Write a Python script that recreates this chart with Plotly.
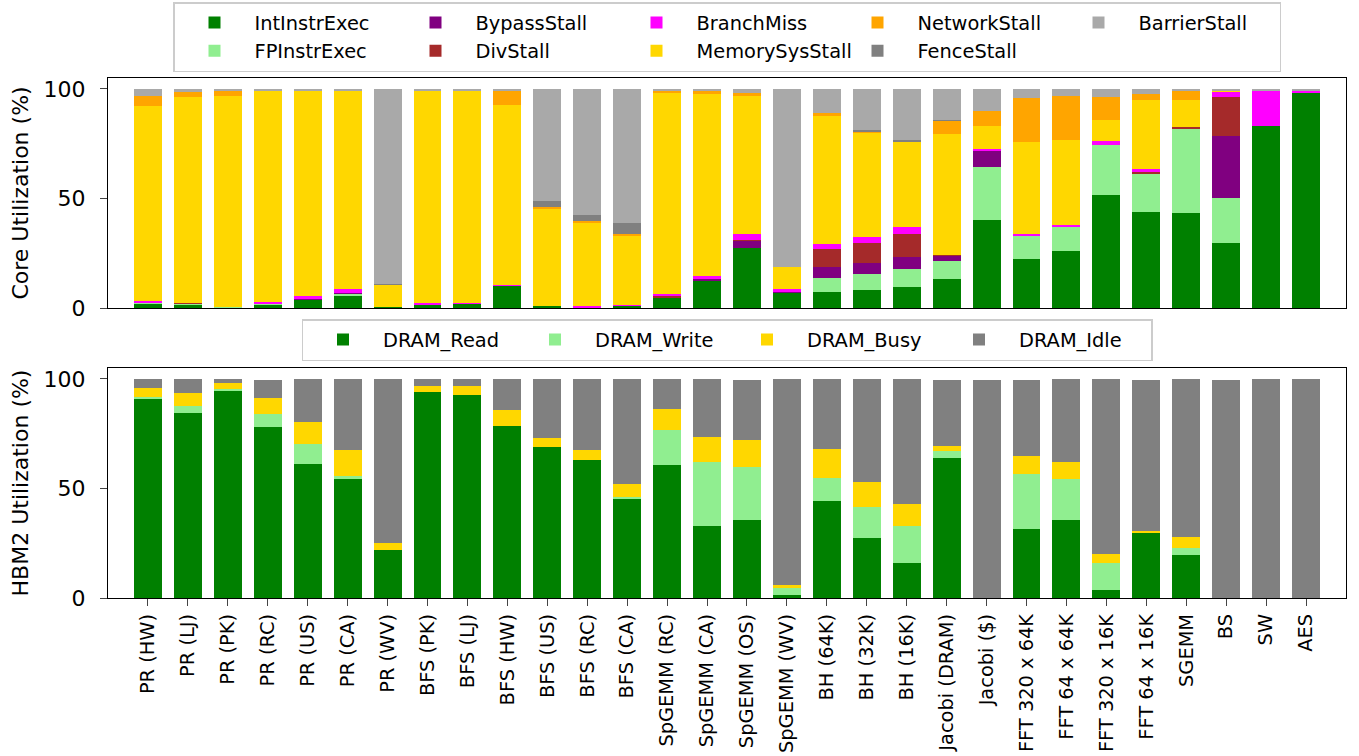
import plotly.graph_objects as go

categories = ["PR (HW)", "PR (LJ)", "PR (PK)", "PR (RC)", "PR (US)", "PR (CA)", "PR (WV)",
              "BFS (PK)", "BFS (LJ)", "BFS (HW)", "BFS (US)", "BFS (RC)", "BFS (CA)",
              "SpGEMM (RC)", "SpGEMM (CA)", "SpGEMM (OS)", "SpGEMM (WV)",
              "BH (64K)", "BH (32K)", "BH (16K)", "Jacobi (DRAM)", "Jacobi ($)",
              "FFT 320 x 64K", "FFT 64 x 64K", "FFT 320 x 16K", "FFT 64 x 16K",
              "SGEMM", "BS", "SW", "AES"]

# Core utilization breakdown (%)
int_instr = [2.0, 1.7, 0.3, 1.5, 4.0, 5.6, 0.5, 1.5, 2.0, 10.2, 0.8, 0.3, 1.0, 4.9, 12.2, 27.6, 7.0,
             7.5, 8.4, 9.8, 13.4, 40.0, 22.6, 25.8, 51.5, 43.7, 43.2, 29.9, 83.1, 98.6]
fp_instr = [0.7, 0.3, 0.3, 0.4, 0, 0.8, 0, 0, 0, 0, 0, 0, 0, 0, 0, 0, 0,
            6.4, 7.3, 8.2, 8.2, 24.3, 10.5, 11.5, 22.9, 17.9, 38.9, 20.2, 0, 0]
bypass_stall = [0, 0, 0, 0, 0.3, 0.4, 0, 0, 0, 0, 0, 0, 0, 0, 1.2, 3.1, 0.5,
                4.6, 5.0, 5.5, 2.3, 7.8, 0, 0, 0, 0, 0, 28.4, 0, 0]
div_stall = [0, 0.5, 0, 0, 0, 0, 0, 0, 0, 0, 0, 0, 0, 0.8, 0, 0.3, 0,
             8.4, 9.2, 10.5, 0.5, 0, 0, 0, 0, 0.5, 0.5, 17.9, 0, 0]
branch_miss = [0.5, 0, 0, 0.9, 1.4, 2.0, 0, 0.6, 0.5, 0.5, 0, 0.5, 0.5, 0.5, 1.4, 3.0, 1.4,
               2.1, 2.7, 3.2, 0, 0.6, 0.9, 0.5, 1.8, 1.4, 0, 2.3, 16.3, 0.6]
memory_stall = [88.9, 93.9, 96.2, 96.5, 93.7, 90.5, 10.1, 97.3, 96.9, 82.0, 44.7, 38.3, 31.6, 92.1, 82.9, 62.8, 9.6,
                59.1, 47.6, 38.9, 55.0, 10.4, 41.7, 38.9, 9.6, 31.6, 12.4, 0.8, 0, 0]
network_stall = [4.6, 2.1, 2.6, 0, 0, 0, 0, 0, 0, 6.7, 0.5, 0.5, 0.5, 1.2, 1.4, 1.4, 0,
                 0.9, 0.5, 0, 6.0, 6.9, 20.2, 20.2, 10.5, 2.7, 4.4, 0, 0, 0]
fence_stall = [0, 0, 0, 0, 0, 0, 0.5, 0, 0, 0, 2.7, 2.7, 5.0, 0, 0, 0, 0,
               0, 0.5, 0.5, 0.5, 0, 0, 0, 0, 0, 0, 0, 0, 0]
barrier_stall = [3.3, 1.5, 0.6, 0.7, 0.6, 0.7, 88.9, 0.6, 0.6, 0.6, 51.3, 57.7, 61.4, 0.5, 0.9, 1.8, 81.5,
                 11.0, 18.8, 23.4, 14.1, 10.0, 4.1, 3.1, 3.7, 2.2, 0.6, 0.5, 0.6, 0.8]

# HBM2 utilization breakdown (%)
dram_read = [91.3, 84.4, 94.5, 78.0, 61.1, 54.2, 22.1, 94.0, 92.7, 78.5, 68.9, 62.9, 45.5, 60.6, 33.1, 35.4, 1.5,
             44.1, 27.2, 16.2, 63.8, 0, 31.3, 35.4, 3.8, 29.9, 19.8, 0, 0, 0]
dram_write = [0.6, 3.2, 0.9, 6.0, 9.2, 1.4, 0, 0, 0, 0, 0, 0, 0.5, 16.0, 28.9, 24.3, 3.2,
              10.5, 14.2, 16.9, 3.2, 0, 25.2, 18.8, 12.4, 0, 3.2, 0, 0, 0]
dram_busy = [4.0, 6.0, 2.7, 7.3, 10.1, 11.9, 3.2, 2.7, 4.1, 7.3, 4.1, 4.6, 6.0, 9.6, 11.5, 12.4, 1.4,
             13.3, 11.5, 9.6, 2.3, 0, 8.2, 7.8, 3.7, 0.5, 5.0, 0, 0, 0]
dram_idle = [4.1, 6.4, 1.9, 8.2, 19.6, 32.5, 74.7, 3.3, 3.2, 14.2, 27.0, 32.5, 48.0, 13.8, 26.5, 27.4, 93.9,
             32.1, 47.1, 57.3, 30.2, 99.5, 34.8, 38.0, 80.1, 69.1, 72.0, 99.5, 100, 100]

core_series = [
    ("IntInstrExec", int_instr, "#008000", 1),
    ("FPInstrExec", fp_instr, "#90EE90", 6),
    ("BypassStall", bypass_stall, "#800080", 2),
    ("DivStall", div_stall, "#A52A2A", 7),
    ("BranchMiss", branch_miss, "#FF00FF", 3),
    ("MemorySysStall", memory_stall, "#FFD700", 8),
    ("NetworkStall", network_stall, "#FFA500", 4),
    ("FenceStall", fence_stall, "#808080", 9),
    ("BarrierStall", barrier_stall, "#A9A9A9", 5),
]
mem_series = [
    ("DRAM_Read", dram_read, "#008000"),
    ("DRAM_Write", dram_write, "#90EE90"),
    ("DRAM_Busy", dram_busy, "#FFD700"),
    ("DRAM_Idle", dram_idle, "#808080"),
]

FONT = "DejaVu Sans"
W, H = 1359, 756
fig = go.Figure()

for name, vals, color, rank in core_series:
    fig.add_trace(go.Bar(x=categories, y=vals, name=name, marker=dict(color=color, line=dict(width=0)),
                         width=0.7, xaxis="x", yaxis="y", legend="legend", legendrank=rank))

for i, (name, vals, color) in enumerate(mem_series):
    fig.add_trace(go.Bar(x=categories, y=vals, name=name, marker=dict(color=color, line=dict(width=0)),
                         width=0.7, xaxis="x2", yaxis="y2", legend="legend2", legendrank=i + 1))

# plot area (pixels): x 108..1346, y 78..598
PT, PB = 78, 598
PH = PB - PT
axis_common = dict(showline=True, linecolor="black", linewidth=1.3, mirror=True, showgrid=False,
                   zeroline=False)
ytick_common = dict(range=[0, 105], tickvals=[0, 50, 100], ticks="outside", ticklen=7, tickwidth=1.3,
                    tickfont=dict(size=22, family=FONT), ticklabelstandoff=10)

fig.update_layout(
    width=W, height=H,
    barmode="stack",
    plot_bgcolor="white", paper_bgcolor="white",
    margin=dict(l=108, r=W - 1346, t=PT, b=H - PB, autoexpand=False),
    font=dict(family=FONT, color="black"),
    xaxis=dict(domain=[0, 1], anchor="y", type="category", range=[-1, 30],
               showticklabels=False, ticks="", **axis_common),
    yaxis=dict(domain=[(PB - 308) / PH, 1.0], anchor="x",
               title=dict(text="Core Utilization (%)", font=dict(size=22, family=FONT), standoff=8),
               **ytick_common, **axis_common),
    xaxis2=dict(domain=[0, 1], anchor="y2", type="category", range=[-1, 30],
                ticks="outside", ticklen=7, tickwidth=1.3, tickangle=-90,
                tickfont=dict(size=19.4, family=FONT), **axis_common),
    yaxis2=dict(domain=[0, (PB - 368) / PH], anchor="x2",
                title=dict(text="HBM2 Utilization (%)", font=dict(size=22, family=FONT), standoff=8),
                **ytick_common, **axis_common),
    legend=dict(orientation="h", x=0.5, xanchor="center", yref="container", y=1 - 2 / H, yanchor="top",
                entrywidth=136, itemwidth=70, traceorder="normal", font=dict(size=19.4, family=FONT),
                bordercolor="#cccccc", borderwidth=1.5, bgcolor="white", itemclick=False),
    legend2=dict(orientation="h", x=0.5, xanchor="center", yref="container", y=1 - 319 / H, yanchor="top",
                 entrywidth=127, itemwidth=70, traceorder="normal", font=dict(size=19.4, family=FONT),
                 bordercolor="#cccccc", borderwidth=1.5, bgcolor="white", itemclick=False),
)

fig.write_html("out.html", config={"displayModeBar": False},
               post_script="document.body.style.margin='0px';")
